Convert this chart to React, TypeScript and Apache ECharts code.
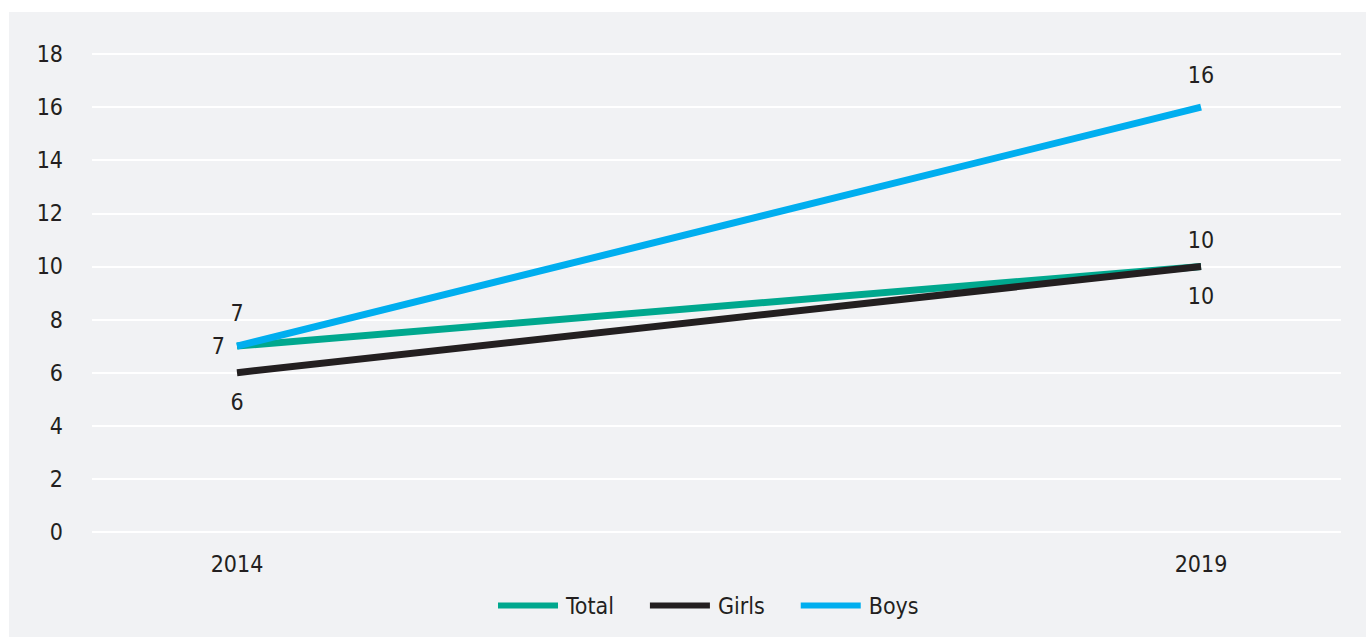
import React, { useEffect, useRef } from "react";
import * as echarts from "echarts";

const years = [2014, 2019];
const total = [7, 10];
const girls = [6, 10];
const boys = [7, 16];
const yTicks = [0, 2, 4, 6, 8, 10, 12, 14, 16, 18];

const FONT = "'DejaVu Sans Condensed', 'Liberation Sans Narrow', sans-serif";
const TEXT = "#231f20";

export default function App() {
  const ref = useRef<HTMLDivElement>(null);

  useEffect(() => {
    if (!ref.current) return;
    const chart = echarts.init(ref.current, null, { renderer: "svg" });

    const pts = (vals: number[]) => years.map((y, i) => [y, vals[i]]);
    const labelled = (vals: number[], positions: string[], distances: number[]) =>
      pts(vals).map((p, i) => ({
        value: p,
        label: { show: true, position: positions[i], distance: distances[i] },
      }));

    const baseLabel = { fontFamily: FONT, fontSize: 23, color: TEXT };

    chart.setOption({
      animation: false,
      backgroundColor: "#f1f2f4",
      textStyle: { fontFamily: FONT },
      grid: { left: 83, right: 25, top: 42, bottom: 105 },
      xAxis: {
        type: "value",
        min: 2013.248,
        max: 2019.726,
        axisLine: { show: false },
        axisTick: { show: false },
        splitLine: { show: false },
        axisLabel: {
          customValues: years,
          formatter: (v: number) => String(v),
          fontFamily: FONT,
          fontSize: 23,
          color: TEXT,
          margin: 20,
        },
      },
      yAxis: {
        type: "value",
        min: yTicks[0],
        max: yTicks[yTicks.length - 1],
        interval: 2,
        axisLine: { show: false },
        axisTick: { show: false },
        splitLine: { lineStyle: { color: "#ffffff", width: 2 } },
        axisLabel: { fontFamily: FONT, fontSize: 23, color: TEXT, margin: 29 },
      },
      legend: {
        left: 484,
        top: 577,
        icon: "rect",
        itemWidth: 60,
        itemHeight: 6,
        itemGap: 36,
        textStyle: { fontFamily: FONT, fontSize: 23, color: TEXT, padding: [0, 0, 0, 3] },
        data: ["Total", "Girls", "Boys"],
      },
      series: [
        {
          name: "Total",
          type: "line",
          symbol: "circle",
          symbolSize: 0,
          showSymbol: true,
          color: "#00a88e",
          lineStyle: { width: 7, color: "#00a88e" },
          label: baseLabel,
          data: labelled(total, ["left", "top"], [12, 15]),
        },
        {
          name: "Girls",
          type: "line",
          symbol: "circle",
          symbolSize: 0,
          showSymbol: true,
          color: TEXT,
          lineStyle: { width: 7, color: TEXT },
          label: baseLabel,
          data: labelled(girls, ["bottom", "bottom"], [18, 18]),
        },
        {
          name: "Boys",
          type: "line",
          symbol: "circle",
          symbolSize: 0,
          showSymbol: true,
          color: "#00aeef",
          lineStyle: { width: 7, color: "#00aeef" },
          label: baseLabel,
          data: labelled(boys, ["top", "top"], [22, 21]),
        },
      ],
    });

    return () => chart.dispose();
  }, []);

  return (
    <div
      style={{
        position: "fixed",
        left: 0,
        top: 0,
        width: 1366,
        height: 637,
        background: "#ffffff",
      }}
    >
      <div
        ref={ref}
        style={{ position: "absolute", left: 9, top: 12, width: 1357, height: 625 }}
      />
    </div>
  );
}
